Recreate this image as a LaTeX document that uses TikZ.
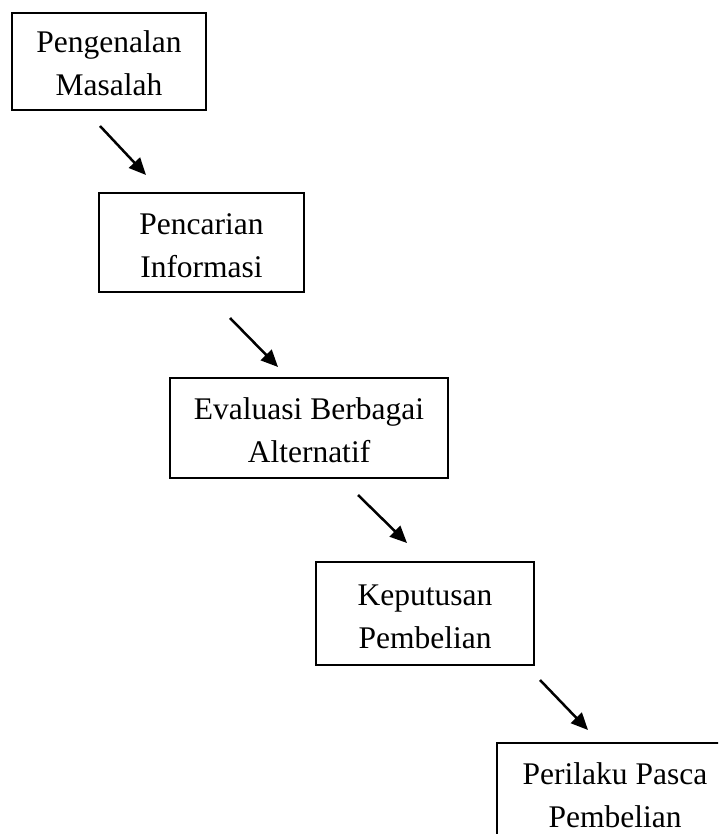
\documentclass[tikz,border=0pt]{standalone}
\usepackage{fontspec}
\setmainfont{Liberation Serif}
\usetikzlibrary{arrows.meta}
\begin{document}
\begin{tikzpicture}[x=1pt,y=-1pt,
  box/.style={draw, line width=2pt, align=center, inner sep=0pt,
    font=\fontsize{31.5}{43}\selectfont, text height=71pt, text depth=2pt},
  arr/.style={line width=2.5pt, -{Triangle[length=17pt,width=15pt]}}]
\useasboundingbox (0,0) rectangle (718,834);
\clip (0,0) rectangle (718,834);
\node[box, minimum width=194pt, minimum height=97pt] (b1) at (109,61.5) {Pengenalan\\Masalah};
\node[box, minimum width=205pt, minimum height=99pt] (b2) at (201.5,242.5) {Pencarian\\Informasi};
\node[box, minimum width=278pt, minimum height=100pt] (b3) at (309,428) {Evaluasi Berbagai\\Alternatif};
\node[box, minimum width=218pt, minimum height=103pt] (b4) at (425,613.5) {Keputusan\\Pembelian};
\node[box, minimum width=236pt, minimum height=100pt] (b5) at (615,793) {Perilaku Pasca\\Pembelian};
\coordinate (a1s) at (100,126); \coordinate (a1e) at (146,175);
\coordinate (a2s) at (230,318); \coordinate (a2e) at (278,367);
\coordinate (a3s) at (358,495); \coordinate (a3e) at (407,543);
\coordinate (a4s) at (540,680); \coordinate (a4e) at (588,730);
\draw[arr] (a1s) -- (a1e);
\draw[arr] (a2s) -- (a2e);
\draw[arr] (a3s) -- (a3e);
\draw[arr] (a4s) -- (a4e);
\end{tikzpicture}
\end{document}
